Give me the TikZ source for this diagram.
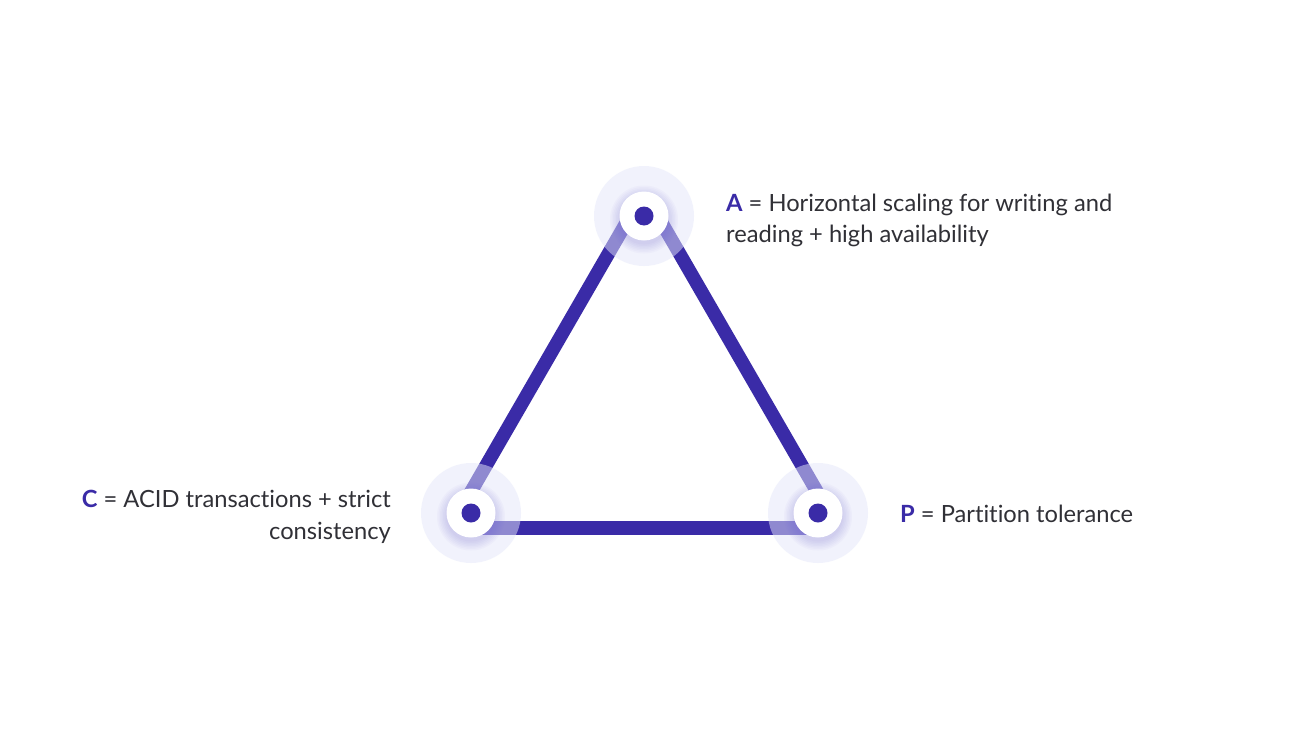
\documentclass[tikz,border=0pt]{standalone}
\usepackage{fontspec}
\setmainfont{Lato}[Ligatures={NoCommon,NoDiscretionary,NoContextual}]
\definecolor{indigo}{HTML}{3A2BA7}
\definecolor{halo}{HTML}{E4E7FA}
\definecolor{ink}{HTML}{303036}
\definecolor{glow}{HTML}{6A5FD0}

\tikzset{
  edge/.style={draw=indigo, line width=13.5pt, line cap=butt,
               shorten <=20pt, shorten >=20pt},
  halo/.style={circle, fill=halo, fill opacity=.5, inner sep=0pt, minimum size=100pt},
  hub/.style={circle, fill=white, inner sep=0pt, minimum size=49pt},
  dot/.style={circle, fill=indigo, inner sep=0pt, minimum size=19pt},
  label/.style={text=ink, inner sep=0pt, font=\fontsize{23.7}{31}\selectfont}
}

\begin{document}
\begin{tikzpicture}[x=1pt, y=-1pt]
  \fill[white] (0,0) rectangle (1299,731);
  \useasboundingbox (0,0) rectangle (1299,731);

  % corners of the stroked triangle
  \coordinate (tA) at (644,192);
  \coordinate (tC) at (450,528);
  \coordinate (tP) at (838,528);

  % sides
  \draw[edge] (tA) -- (tC);
  \draw[edge] (tC) -- (tP);
  \draw[edge] (tP) -- (tA);

  % halos over the side ends
  \node[halo] (Ahalo) at (644,216) {};
  \node[halo] (Chalo) at (471,513) {};
  \node[halo] (Phalo) at (818,513) {};

  % soft glow under each hub
  \foreach \c in {Ahalo, Chalo, Phalo} {
    \foreach \r in {25,26.5,28,29.5,31,32.5,34} {
      \fill[glow, opacity=.035] ([yshift=-3.5pt]\c.center) circle[radius=\r];
    }
  }

  % hubs and dots
  \node[hub] (Ahub) at (Ahalo.center) {};
  \node[hub] (Chub) at (Chalo.center) {};
  \node[hub] (Phub) at (Phalo.center) {};
  \node[dot] (A) at (Ahub.center) {};
  \node[dot] (C) at (Chub.center) {};
  \node[dot] (P) at (Phub.center) {};

  % labels
  \node[label, anchor=base west] (Atext1) at (726,211)
    {\textcolor{indigo}{\bfseries A} = Horizontal scaling for writing and};
  \node[label, anchor=base west] (Atext2) at (726,242)
    {reading + high availability};
  \node[label, anchor=base east] (Ctext1) at (391,507)
    {\textcolor{indigo}{\bfseries C} = ACID transactions + strict};
  \node[label, anchor=base east] (Ctext2) at (391,539)
    {consistency};
  \node[label, anchor=base west] (Ptext) at (900,522)
    {\textcolor{indigo}{\bfseries P} = Partition tolerance};
\end{tikzpicture}
\end{document}
